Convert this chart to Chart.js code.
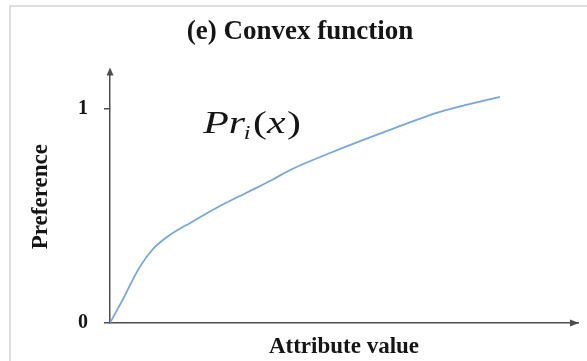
<!DOCTYPE html>
<html>
<head>
<meta charset="utf-8">
<script src="https://cdn.jsdelivr.net/npm/chart.js@4/dist/chart.umd.min.js"></script>
<style>
  html, body { margin: 0; padding: 0; background: #fff; overflow: hidden; }
  #chart { display: block; }
</style>
</head>
<body>
<canvas id="chart" width="587" height="361"></canvas>
<script>
// preference curve (x and y both 0..1-ish)
const attributeValues = [0, 0.030, 0.060, 0.090, 0.122, 0.175, 0.239, 0.295, 0.346, 0.385, 0.470, 0.598, 0.705, 0.833];
const preferenceValues = [0, 0.121, 0.248, 0.341, 0.402, 0.472, 0.551, 0.612, 0.668, 0.715, 0.794, 0.902, 0.986, 1.056];
const yTickValues = [0, 1];

const titleText = '(e) Convex function';
const xAxisLabel = 'Attribute value';
const yAxisLabel = 'Preference';
// where the Pr_i(x) label sits, in data units
const labelAt = { x: 0.199, y: 0.888 };

const SERIF = '"Liberation Serif", "Times New Roman", serif';
const AXIS_COLOR = '#4d4d4d';
const TEXT_COLOR = '#151515';

// light panel edge along the top and left of the figure
const panelEdge = {
  id: 'panelEdge',
  beforeDraw(chart) {
    const { ctx, width, height } = chart;
    ctx.save();
    ctx.strokeStyle = '#dedede';
    ctx.lineWidth = 2;
    ctx.beginPath();
    ctx.moveTo(width, 6);
    ctx.lineTo(10, 6);
    ctx.lineTo(10, height);
    ctx.stroke();
    ctx.restore();
  }
};

// little arrowheads at the ends of both axes
const axisArrows = {
  id: 'axisArrows',
  afterDraw(chart) {
    const { ctx, chartArea: a } = chart;
    ctx.save();
    ctx.fillStyle = AXIS_COLOR;
    ctx.beginPath();
    ctx.moveTo(a.left, a.top - 3);
    ctx.lineTo(a.left - 3.5, a.top + 5);
    ctx.lineTo(a.left + 3.5, a.top + 5);
    ctx.closePath();
    ctx.fill();
    ctx.beginPath();
    ctx.moveTo(a.right + 1, a.bottom);
    ctx.lineTo(a.right - 8, a.bottom - 3.5);
    ctx.lineTo(a.right - 8, a.bottom + 3.5);
    ctx.closePath();
    ctx.fill();
    ctx.restore();
  }
};

// "Pr_i(x)" next to the curve
const curveName = {
  id: 'curveName',
  afterDatasetsDraw(chart) {
    const { ctx, scales: { x, y } } = chart;
    const px = x.getPixelForValue(labelAt.x);
    const py = y.getPixelForValue(labelAt.y);
    const big = 31, small = 18;
    ctx.save();
    ctx.translate(px, py);
    ctx.scale(1.35, 1);
    ctx.fillStyle = TEXT_COLOR;
    ctx.textBaseline = 'alphabetic';
    let cx = 0;
    const piece = (txt, style, size, dy, gap) => {
      ctx.font = style + ' ' + size + 'px ' + SERIF;
      ctx.fillText(txt, cx, dy);
      cx += ctx.measureText(txt).width + gap;
    };
    piece('Pr', 'italic', big, 0, -1);
    piece('i', 'italic', small, 6, 2);
    piece('(', 'normal', big, 0, 0);
    piece('x', 'italic', big, 0, 1);
    piece(')', 'normal', big, 0, 0);
    ctx.restore();
  }
};

new Chart(document.getElementById('chart'), {
  type: 'line',
  data: {
    datasets: [{
      data: attributeValues.map((v, i) => ({ x: v, y: preferenceValues[i] })),
      borderColor: '#78a6d6',
      borderWidth: 1.8,
      pointRadius: 0,
      cubicInterpolationMode: 'monotone',
      fill: false
    }]
  },
  options: {
    responsive: false,
    animation: false,
    devicePixelRatio: 1,
    layout: { padding: { left: 22, right: 9, top: 0, bottom: 0 } },
    plugins: {
      legend: { display: false },
      tooltip: { enabled: false },
      title: {
        display: true,
        text: titleText,
        color: TEXT_COLOR,
        font: { family: SERIF, size: 27, weight: 'bold' },
        padding: { top: 16, bottom: 22 }
      }
    },
    scales: {
      x: {
        type: 'linear',
        min: 0,
        max: 1,
        grid: { display: false },
        border: { display: true, color: AXIS_COLOR, width: 1.5 },
        ticks: { display: false },
        title: {
          display: true,
          text: xAxisLabel,
          color: TEXT_COLOR,
          font: { family: SERIF, size: 23, weight: 'bold' },
          padding: { top: 6, bottom: 0 }
        },
        afterFit(scale) { scale.height = 38; }
      },
      y: {
        type: 'linear',
        min: 0,
        max: 1.18,
        afterBuildTicks(scale) { scale.ticks = yTickValues.map(value => ({ value })); },
        grid: {
          display: true,
          drawOnChartArea: false,
          drawTicks: true,
          tickLength: 6,
          color: AXIS_COLOR,
          lineWidth: 1.5
        },
        border: { display: true, color: AXIS_COLOR, width: 1.5 },
        ticks: {
          color: TEXT_COLOR,
          padding: 16,
          font: { family: SERIF, size: 20, weight: 'bold' }
        },
        title: {
          display: true,
          text: yAxisLabel,
          color: TEXT_COLOR,
          font: { family: SERIF, size: 23, weight: 'bold' },
          padding: { top: 5, bottom: 0 }
        },
        afterFit(scale) { scale.width = 88; }
      }
    }
  },
  plugins: [panelEdge, axisArrows, curveName]
});
</script>
</body>
</html>
